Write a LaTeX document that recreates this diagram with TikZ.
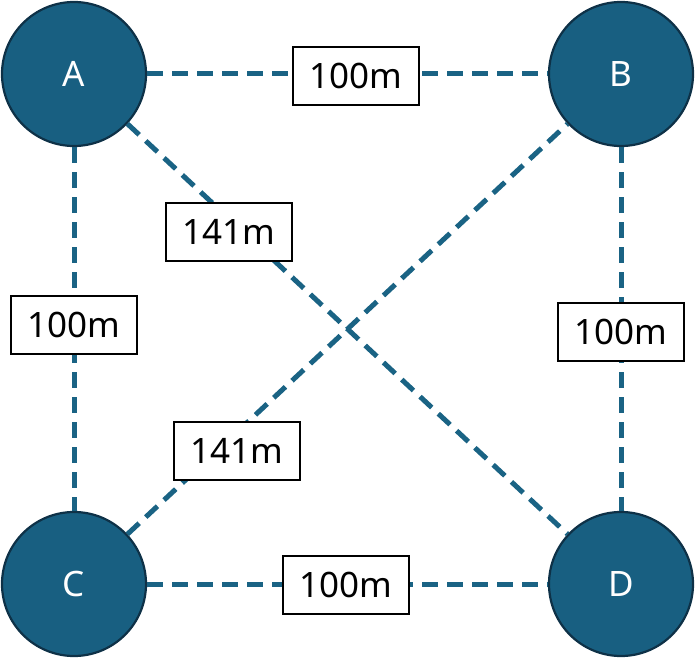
\documentclass[tikz,border=0pt]{standalone}
\usepackage{fontspec}
\setmainfont{Noto Sans}
\definecolor{circfill}{HTML}{185F81}
\definecolor{circline}{HTML}{0E3147}
\definecolor{edgecol}{HTML}{1A6384}
\begin{document}
\begin{tikzpicture}[x=1pt,y=-1pt,
  station/.style={circle,fill=circfill,draw=circline,line width=2.2pt,minimum size=144pt,inner sep=0pt,text=white,font=\fontsize{35}{40}\selectfont},
  link/.style={draw=edgecol,line width=5pt,dash pattern=on 16pt off 9pt},
  dist/.style={draw=black,line width=1.6pt,fill=white,minimum width=126pt,minimum height=58pt,inner sep=0pt,font=\fontsize{35}{40}\selectfont}]
\useasboundingbox (0,0) rectangle (696,660);
\node[station] (A) at (74,74) {A};
\node[station] (B) at (621,74) {B};
\node[station] (C) at (74,584) {C};
\node[station] (D) at (621,584) {D};
\draw[link] (A) -- (B);
\draw[link] (A) -- (C);
\draw[link] (B) -- (D);
\draw[link] (C) -- (D);
\draw[link] (A) -- (D);
\draw[link] (C) -- (B);
\node[dist] (lab) at (356,76) {100m};
\node[dist] (lac) at (74,325) {100m};
\node[dist] (lbd) at (621,332) {100m};
\node[dist] (lcd) at (346,585) {100m};
\node[dist] (lad) at (229,232) {141m};
\node[dist] (lcb) at (237,451) {141m};
\end{tikzpicture}
\end{document}
